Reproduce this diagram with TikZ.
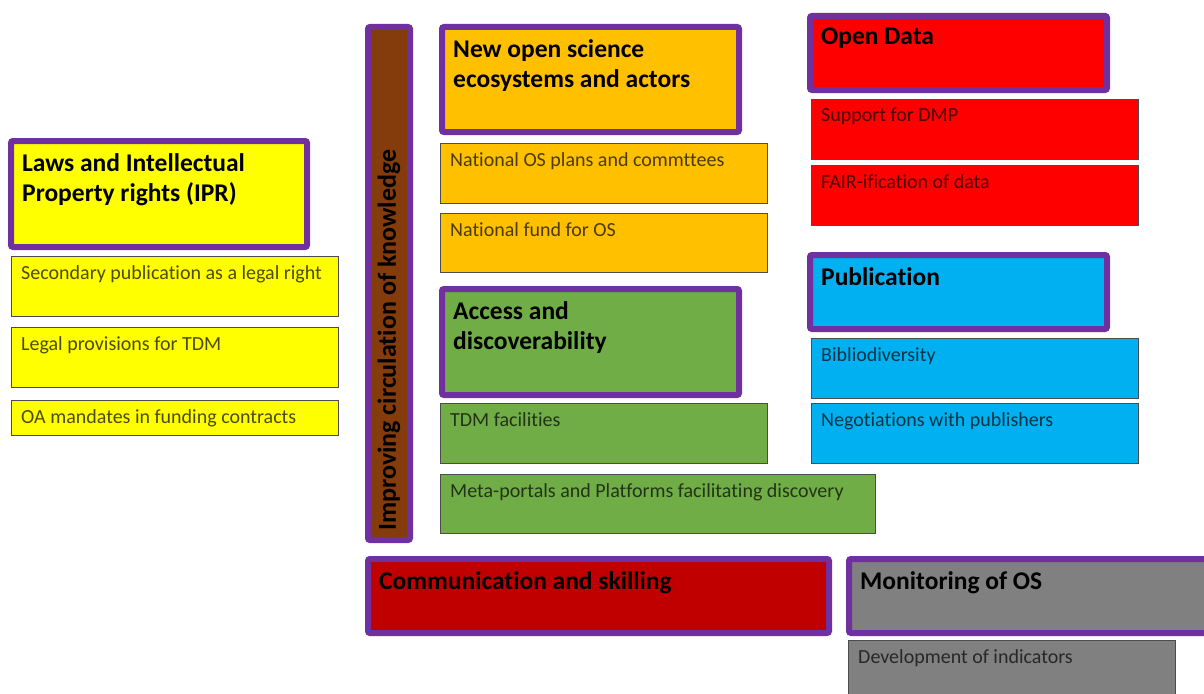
\documentclass[tikz,border=0pt]{standalone}
\usepackage{fontspec}
\setmainfont[Ligatures=NoCommon]{Carlito}
\usepackage{tikz}
\usetikzlibrary{positioning}

\definecolor{ospurple}{HTML}{7030A0}
\definecolor{iprfill}{HTML}{FFFF00}
\definecolor{ecofill}{HTML}{FFC000}
\definecolor{accfill}{HTML}{70AD47}
\definecolor{datafill}{HTML}{FF0000}
\definecolor{pubfill}{HTML}{00B0F0}
\definecolor{commfill}{HTML}{C00000}
\definecolor{monfill}{HTML}{808080}
\definecolor{barfill}{HTML}{843C0C}

\tikzset{
  themebox/.style={draw=ospurple, line width=6pt, rounded corners=2pt, fill=#1, anchor=north west, inner sep=0pt},
  itembox/.style={draw=black!70, line width=0.8pt, fill=#1, anchor=north west, inner sep=0pt},
  themetxt/.style={anchor=north west, align=left, inner xsep=14pt, inner ysep=15pt, font=\bfseries\fontsize{25.5}{30}\selectfont},
  itemtxt/.style={anchor=north west, align=left, inner xsep=10pt, inner ysep=9pt, text=#1!30!black, font=\fontsize{20}{24}\selectfont},
  vtxt/.style={rotate=90, anchor=west, inner xsep=12pt, font=\bfseries\fontsize{26}{30}\selectfont}
}

\begin{document}
\begin{tikzpicture}[x=1pt, y=-1pt]
\useasboundingbox (0,0) rectangle (1204,693);

% left column: laws
\node[themebox=iprfill, minimum width=296pt, minimum height=106pt,
  label={[themetxt]north west:Laws and Intellectual\\Property rights (IPR)}] (ipr) at (8,138) {};
\node[itembox=iprfill, minimum width=327pt, minimum height=60pt,
  label={[itemtxt=iprfill]north west:Secondary publication as a legal right}] (ipr1) at (11,256) {};
\node[itembox=iprfill, minimum width=327pt, minimum height=60pt,
  label={[itemtxt=iprfill]north west:Legal provisions for TDM}] (ipr2) at (11,327) {};
\node[itembox=iprfill, minimum width=327pt, minimum height=35pt,
  label={[itemtxt=iprfill]north west:OA mandates in funding contracts}] (ipr3) at (11,400) {};

% vertical bar
\node[themebox=barfill, minimum width=42pt, minimum height=513pt,
  label={[vtxt]south:Improving circulation of knowledge}] (circ) at (365,24) {};

% middle column: ecosystems, access
\node[themebox=ecofill, minimum width=297pt, minimum height=105pt,
  label={[themetxt]north west:New open science\\ecosystems and actors}] (eco) at (439,24) {};
\node[itembox=ecofill, minimum width=327pt, minimum height=60pt,
  label={[itemtxt=ecofill]north west:National OS plans and commttees}] (eco1) at (440,143) {};
\node[itembox=ecofill, minimum width=327pt, minimum height=59pt,
  label={[itemtxt=ecofill]north west:National fund for OS}] (eco2) at (440,213) {};

\node[themebox=accfill, minimum width=297pt, minimum height=106pt,
  label={[themetxt]north west:Access and\\discoverability}] (acc) at (439,286) {};
\node[itembox=accfill, minimum width=327pt, minimum height=60pt,
  label={[itemtxt=accfill]north west:TDM facilities}] (acc1) at (440,403) {};
\node[itembox=accfill, minimum width=435pt, minimum height=59pt,
  label={[itemtxt=accfill]north west:Meta-portals and Platforms facilitating discovery}] (acc2) at (440,474) {};

% right column: data, publication
\node[themebox=datafill, minimum width=297pt, minimum height=74pt,
  label={[themetxt]north west:Open Data}] (data) at (807,13) {};
\node[itembox=datafill, minimum width=327pt, minimum height=60pt,
  label={[itemtxt=datafill]north west:Support for DMP}] (data1) at (811,99) {};
\node[itembox=datafill, minimum width=327pt, minimum height=60pt,
  label={[itemtxt=datafill]north west:FAIR-ification of data}] (data2) at (811,165) {};

\node[themebox=pubfill, minimum width=297pt, minimum height=74pt,
  label={[themetxt]north west:Publication}] (pub) at (807,252) {};
\node[itembox=pubfill, minimum width=327pt, minimum height=60pt,
  label={[itemtxt=pubfill]north west:Bibliodiversity}] (pub1) at (811,338) {};
\node[itembox=pubfill, minimum width=327pt, minimum height=60pt,
  label={[itemtxt=pubfill]north west:Negotiations with publishers}] (pub2) at (811,403) {};

% bottom row
\node[themebox=commfill, minimum width=461pt, minimum height=74pt,
  label={[themetxt]north west:Communication and skilling}] (comm) at (365,556) {};
\node[themebox=monfill, minimum width=360pt, minimum height=74pt,
  label={[themetxt]north west:Monitoring of OS}] (mon) at (846,556) {};
\node[itembox=monfill, minimum width=327pt, minimum height=60pt,
  label={[itemtxt=monfill]north west:Development of indicators}] (mon1) at (848,640) {};
\end{tikzpicture}
\end{document}
